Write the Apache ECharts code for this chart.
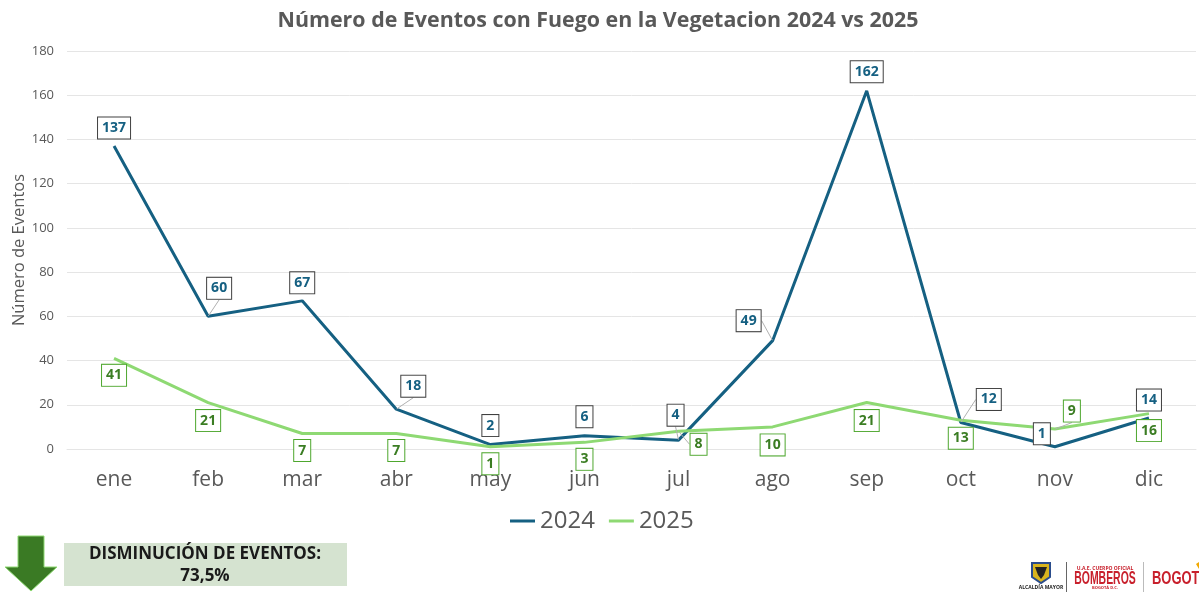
<!DOCTYPE html>
<html>
<head>
<meta charset="utf-8">
<style>
  html, body { margin: 0; padding: 0; background: #fff; }
  #chart { width: 1199px; height: 592px; }
</style>
<script src="https://cdn.jsdelivr.net/npm/echarts@6/dist/echarts.min.js"></script>
</head>
<body>
<div id="chart"></div>
<script>
const months = ['ene', 'feb', 'mar', 'abr', 'may', 'jun', 'jul', 'ago', 'sep', 'oct', 'nov', 'dic']
const values2024 = [137, 60, 67, 18, 2, 6, 4, 49, 162, 12, 1, 14]
const values2025 = [41, 21, 7, 7, 1, 3, 8, 10, 21, 13, 9, 16]

// desplazamiento de cada etiqueta respecto a su punto [dx, dy]
const offsets2024 = [[0, -18], [11, -28], [0, -18], [17, -23], [0, -19], [0, -19], [-3, -25], [-24, -20], [0, -19], [28, -23], [-13, -13], [0, -18]]
const offsets2025 = [[0, 17], [0, 18], [0, 17], [0, 17], [0, 17], [0, 17], [20, 13], [0, 18], [0, 18], [0, 18], [17, -18], [0, 17]]
const leaders2024 = [1, 3, 6, 7, 9]
const leaders2025 = [6, 10]

const FONT = '"Open Sans", "Noto Sans", sans-serif'
const chart = echarts.init(document.getElementById('chart'))

function buildSeries(name, values, offsets, leaders, lineColor, textColor, borderColor) {
  return {
    name,
    type: 'line',
    data: values.map((v, i) => ({ value: v, labelLine: { show: leaders.includes(i) } })),
    smooth: false,
    symbol: 'circle',
    symbolSize: 1,
    itemStyle: { color: lineColor, opacity: 0 },
    lineStyle: { color: lineColor, width: 3 },
    label: {
      show: true,
      position: 'inside',
      fontFamily: FONT,
      fontSize: 14,
      fontWeight: 700,
      color: textColor,
      backgroundColor: '#fff',
      borderColor,
      borderWidth: 1,
      padding: [4, 4, 3, 4],
      opacity: 1
    },
    labelLine: { show: false, lineStyle: { color: '#b0b0b0', width: 1 } },
    labelLayout: params => ({ dx: offsets[params.dataIndex][0], dy: offsets[params.dataIndex][1], hideOverlap: false }),
    z: 3
  }
}

chart.setOption({
  animation: false,
  title: {
    text: 'Número de Eventos con Fuego en la Vegetacion 2024 vs 2025',
    left: 593,
    top: 5,
    textAlign: 'center',
    textStyle: { fontFamily: FONT, fontSize: 21.4, fontWeight: 'bold', color: '#595959' }
  },
  legend: {
    left: 505,
    top: 504,
    itemWidth: 25,
    itemGap: 14,
    icon: 'rect',
    itemHeight: 3,
    itemStyle: { opacity: 1 },
    textStyle: { fontFamily: FONT, fontSize: 24, color: '#595959' },
    data: ['2024', '2025']
  },
  grid: { left: 67, right: 3, top: 51, bottom: 143, outerBoundsMode: 'none' },
  xAxis: {
    type: 'category',
    data: months,
    axisLine: { lineStyle: { color: '#e5e5e5' } },
    axisTick: { show: false },
    axisLabel: { fontFamily: FONT, fontSize: 21, color: '#595959', margin: 21 }
  },
  yAxis: {
    type: 'value',
    min: 0,
    max: 180,
    interval: 20,
    name: 'Número de Eventos',
    nameLocation: 'middle',
    nameGap: 39,
    nameMoveOverlap: false,
    nameTextStyle: { fontFamily: FONT, fontSize: 16.5, color: '#595959' },
    axisLine: { show: false },
    axisTick: { show: false },
    axisLabel: { fontFamily: FONT, fontSize: 13, color: '#595959', margin: 13 },
    splitLine: { lineStyle: { color: '#e5e5e5' } }
  },
  series: [
    buildSeries('2024', values2024, offsets2024, leaders2024, '#156082', '#156082', '#404040'),
    buildSeries('2025', values2025, offsets2025, leaders2025, '#8ed973', '#3b7d23', '#4ea72e')
  ],
  graphic: [
    { type: 'polygon', shape: { points: [[18, 536], [44, 536], [44, 567], [57, 567], [31, 591], [5, 567], [18, 567]] },
      style: { fill: '#3a7a24', stroke: '#8ed973', lineWidth: 1 } },
    { type: 'rect', shape: { x: 64, y: 543, width: 283, height: 43 }, style: { fill: '#d5e3d0' } },
    { type: 'text', x: 205, y: 554, style: { text: 'DISMINUCIÓN DE EVENTOS:', align: 'center', verticalAlign: 'middle', font: 'bold 17px "Open Sans", sans-serif', fill: '#1a1a1a' } },
    { type: 'text', x: 205, y: 576, style: { text: '73,5%', align: 'center', verticalAlign: 'middle', font: 'bold 17px "Open Sans", sans-serif', fill: '#1a1a1a' } },
    // logos del pie
    { type: 'polygon', shape: { points: [[1032, 563], [1050, 563], [1050, 577], [1041, 583], [1032, 577]] }, style: { fill: '#d8b41e', stroke: '#2a4c8c', lineWidth: 2 } },
    { type: 'polygon', shape: { points: [[1035, 567], [1047, 567], [1044, 575], [1041, 579], [1038, 575]] }, style: { fill: '#222' } },
    { type: 'text', x: 1041, y: 588, style: { text: 'ALCALDÍA MAYOR', align: 'center', verticalAlign: 'middle', font: 'bold 5px "Open Sans", sans-serif', fill: '#222' } },
    { type: 'rect', shape: { x: 1066, y: 562, width: 1, height: 30 }, style: { fill: '#666' } },
    { type: 'text', x: 1105, y: 569, style: { text: 'U.A.E. CUERPO OFICIAL', align: 'center', verticalAlign: 'middle', font: 'bold 5px "Open Sans", sans-serif', fill: '#c8202c' } },
    { type: 'text', x: 1105, y: 579, scaleX: 0.58, style: { text: 'BOMBEROS', align: 'center', verticalAlign: 'middle', font: 'bold 18px "Liberation Sans", sans-serif', fill: '#c8202c' } },
    { type: 'text', x: 1105, y: 588, style: { text: 'BOGOTÁ D.C.', align: 'center', verticalAlign: 'middle', font: 'bold 4px "Open Sans", sans-serif', fill: '#c8202c' } },
    { type: 'rect', shape: { x: 1143, y: 562, width: 1, height: 30 }, style: { fill: '#bbb' } },
    { type: 'text', x: 1152, y: 579, scaleX: 0.72, style: { text: 'BOGOTÁ', align: 'left', verticalAlign: 'middle', font: 'bold 18px "Liberation Sans", sans-serif', fill: '#c8202c' } },
    { type: 'polygon', shape: { points: [[1196, 564], [1199, 562], [1199, 569]] }, style: { fill: '#f2a900' } }
  ]
})
</script>
</body>
</html>
